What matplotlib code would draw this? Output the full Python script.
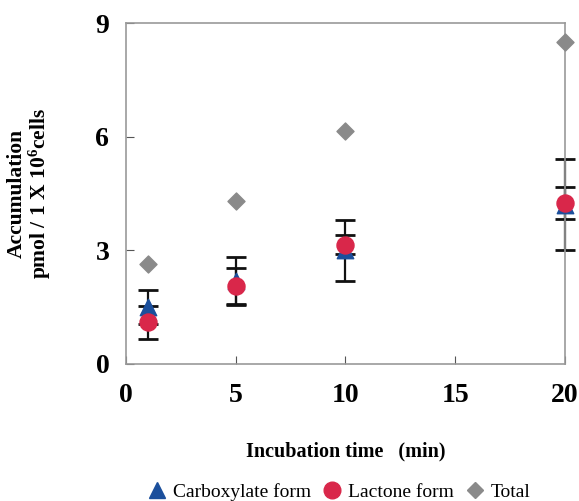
import matplotlib.pyplot as plt
from matplotlib.lines import Line2D

plt.rcParams['font.family'] = ['Liberation Serif', 'DejaVu Serif']
plt.rcParams['mathtext.default'] = 'regular'

time = [1, 5, 10, 20]
carboxylate = [1.5, 2.2, 3.0, 4.2]
carboxylate_err = [0.45, 0.62, 0.8, 1.2]
lactone = [1.1, 2.05, 3.15, 4.25]
lactone_err = [0.43, 0.48, 0.25, 0.42]
total = [2.65, 4.3, 6.15, 8.5]

fig = plt.figure(figsize=(5.79, 5.01), dpi=100)
ax = fig.add_axes([0.2176, 0.2735, 0.7582, 0.6805])

for vals, errs in [(carboxylate, carboxylate_err), (lactone, lactone_err)]:
    eb = ax.errorbar(time, vals, yerr=errs, fmt='none', ecolor='#111111',
                     elinewidth=1.6, capsize=7, capthick=2, zorder=2)
    for art in eb.lines[1] + eb.lines[2]:
        art.set_clip_on(False)
ax.scatter(time, total, marker='D', s=75, color='#8a8a8a', zorder=3, clip_on=False)
ax.scatter(time, carboxylate, marker='^', s=140, color='#1b4f9c', zorder=3, clip_on=False)
ax.scatter(time, lactone, marker='o', s=150, color='#d9274a', zorder=4, clip_on=False)

ax.set_xlim(0, 20)
ax.set_ylim(0, 9)
ax.set_xticks([0, 5, 10, 15, 20])
ax.set_yticks([0, 3, 6, 9])
ax.tick_params(direction='in', length=6, color='#555555', labelsize=20, pad=14)
ax.tick_params(axis='y', pad=12)
for lab in ax.get_xticklabels() + ax.get_yticklabels():
    lab.set_fontweight('bold')
for s in ax.spines.values():
    s.set_color('#999999')
    s.set_linewidth(1.2)

ax.set_xlabel('Incubation time   (min)', fontsize=14.5, fontweight='bold', labelpad=24)
ax.set_ylabel('Accumulation\npmol / 1 X 10$^{6}$cells', fontsize=15.5, fontweight='bold',
              linespacing=1.0)
ax.yaxis.set_label_coords(-0.167, 0.5)

handles = [
    Line2D([], [], marker='^', color='#1b4f9c', linestyle='none', markersize=11),
    Line2D([], [], marker='o', color='#d9274a', linestyle='none', markersize=12),
    Line2D([], [], marker='D', color='#8a8a8a', linestyle='none', markersize=8),
]
fig.legend(handles, ['Carboxylate form', 'Lactone form', 'Total'], loc='lower center',
           bbox_to_anchor=(0.585, -0.035), ncol=3, frameon=False, fontsize=14,
           handlelength=1.0, handletextpad=0.3, columnspacing=0.6)

fig.savefig('out.png', dpi=100)
